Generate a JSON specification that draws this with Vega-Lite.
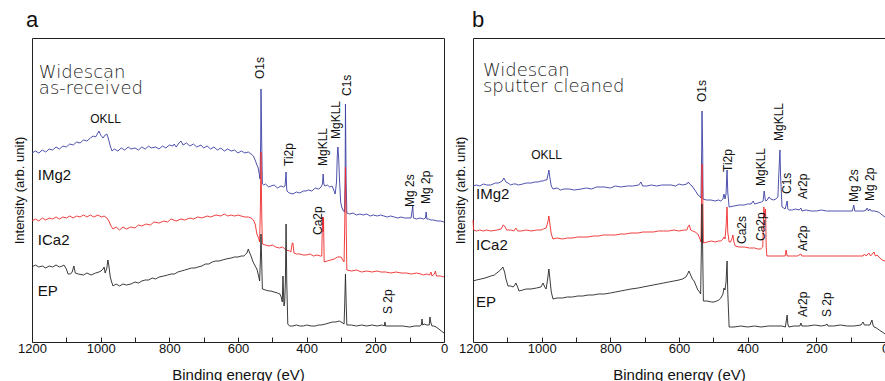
{
"$schema":"https://vega.github.io/schema/vega-lite/v6.json",
"padding":{"left":12,"top":8,"right":0,"bottom":0},
"bounds":"flush",
"spacing":29,
"datasets":{
"spectra":[
{"p":"a","s":"IMg2","e":1200,"i":189},{"p":"a","s":"IMg2","e":1190,"i":191},{"p":"a","s":"IMg2","e":1180,"i":189},{"p":"a","s":"IMg2","e":1170,"i":192},{"p":"a","s":"IMg2","e":1160,"i":190},{"p":"a","s":"IMg2","e":1150,"i":193},{"p":"a","s":"IMg2","e":1140,"i":192},{"p":"a","s":"IMg2","e":1130,"i":195},{"p":"a","s":"IMg2","e":1120,"i":193},{"p":"a","s":"IMg2","e":1110,"i":196},{"p":"a","s":"IMg2","e":1100,"i":195},{"p":"a","s":"IMg2","e":1090,"i":198},{"p":"a","s":"IMg2","e":1080,"i":197},{"p":"a","s":"IMg2","e":1070,"i":200},{"p":"a","s":"IMg2","e":1060,"i":199},{"p":"a","s":"IMg2","e":1050,"i":202},{"p":"a","s":"IMg2","e":1040,"i":201},{"p":"a","s":"IMg2","e":1030,"i":204},{"p":"a","s":"IMg2","e":1022,"i":206},{"p":"a","s":"IMg2","e":1015,"i":205},{"p":"a","s":"IMg2","e":1008,"i":209},{"p":"a","s":"IMg2","e":1005,"i":211},{"p":"a","s":"IMg2","e":1000,"i":207},{"p":"a","s":"IMg2","e":993,"i":204},{"p":"a","s":"IMg2","e":987,"i":207},{"p":"a","s":"IMg2","e":982,"i":208},{"p":"a","s":"IMg2","e":978,"i":204},{"p":"a","s":"IMg2","e":972,"i":196},{"p":"a","s":"IMg2","e":967,"i":191},{"p":"a","s":"IMg2","e":960,"i":193},{"p":"a","s":"IMg2","e":950,"i":191},{"p":"a","s":"IMg2","e":940,"i":194},{"p":"a","s":"IMg2","e":930,"i":192},{"p":"a","s":"IMg2","e":920,"i":195},{"p":"a","s":"IMg2","e":912,"i":193},{"p":"a","s":"IMg2","e":900,"i":194},{"p":"a","s":"IMg2","e":890,"i":192},{"p":"a","s":"IMg2","e":880,"i":195},{"p":"a","s":"IMg2","e":870,"i":193},{"p":"a","s":"IMg2","e":860,"i":196},{"p":"a","s":"IMg2","e":853,"i":194},{"p":"a","s":"IMg2","e":840,"i":195},{"p":"a","s":"IMg2","e":830,"i":193},{"p":"a","s":"IMg2","e":820,"i":196},{"p":"a","s":"IMg2","e":810,"i":194},{"p":"a","s":"IMg2","e":800,"i":197},{"p":"a","s":"IMg2","e":790,"i":196},{"p":"a","s":"IMg2","e":786,"i":198},{"p":"a","s":"IMg2","e":780,"i":195},{"p":"a","s":"IMg2","e":772,"i":199},{"p":"a","s":"IMg2","e":766,"i":201},{"p":"a","s":"IMg2","e":760,"i":197},{"p":"a","s":"IMg2","e":750,"i":199},{"p":"a","s":"IMg2","e":740,"i":196},{"p":"a","s":"IMg2","e":730,"i":198},{"p":"a","s":"IMg2","e":720,"i":195},{"p":"a","s":"IMg2","e":708,"i":197},{"p":"a","s":"IMg2","e":700,"i":194},{"p":"a","s":"IMg2","e":690,"i":196},{"p":"a","s":"IMg2","e":680,"i":193},{"p":"a","s":"IMg2","e":670,"i":195},{"p":"a","s":"IMg2","e":660,"i":192},{"p":"a","s":"IMg2","e":650,"i":194},{"p":"a","s":"IMg2","e":640,"i":191},{"p":"a","s":"IMg2","e":630,"i":193},{"p":"a","s":"IMg2","e":620,"i":191},{"p":"a","s":"IMg2","e":610,"i":192},{"p":"a","s":"IMg2","e":600,"i":189},{"p":"a","s":"IMg2","e":590,"i":191},{"p":"a","s":"IMg2","e":580,"i":189},{"p":"a","s":"IMg2","e":570,"i":190},{"p":"a","s":"IMg2","e":562,"i":188},{"p":"a","s":"IMg2","e":555,"i":186},{"p":"a","s":"IMg2","e":549,"i":181},{"p":"a","s":"IMg2","e":545,"i":177},{"p":"a","s":"IMg2","e":542,"i":175},{"p":"a","s":"IMg2","e":538,"i":168},{"p":"a","s":"IMg2","e":536,"i":163},{"p":"a","s":"IMg2","e":534,"i":200},{"p":"a","s":"IMg2","e":533,"i":253},{"p":"a","s":"IMg2","e":531,"i":200},{"p":"a","s":"IMg2","e":529,"i":158},{"p":"a","s":"IMg2","e":525,"i":157},{"p":"a","s":"IMg2","e":520,"i":158},{"p":"a","s":"IMg2","e":510,"i":155},{"p":"a","s":"IMg2","e":504,"i":156},{"p":"a","s":"IMg2","e":495,"i":157},{"p":"a","s":"IMg2","e":485,"i":154},{"p":"a","s":"IMg2","e":475,"i":156},{"p":"a","s":"IMg2","e":467,"i":155},{"p":"a","s":"IMg2","e":463,"i":156},{"p":"a","s":"IMg2","e":460,"i":170},{"p":"a","s":"IMg2","e":458,"i":152},{"p":"a","s":"IMg2","e":455,"i":150},{"p":"a","s":"IMg2","e":450,"i":149},{"p":"a","s":"IMg2","e":440,"i":148},{"p":"a","s":"IMg2","e":430,"i":150},{"p":"a","s":"IMg2","e":420,"i":149},{"p":"a","s":"IMg2","e":410,"i":151},{"p":"a","s":"IMg2","e":402,"i":151},{"p":"a","s":"IMg2","e":395,"i":152},{"p":"a","s":"IMg2","e":385,"i":151},{"p":"a","s":"IMg2","e":375,"i":154},{"p":"a","s":"IMg2","e":365,"i":153},{"p":"a","s":"IMg2","e":358,"i":155},{"p":"a","s":"IMg2","e":354,"i":158},{"p":"a","s":"IMg2","e":352,"i":168},{"p":"a","s":"IMg2","e":350,"i":158},{"p":"a","s":"IMg2","e":347,"i":156},{"p":"a","s":"IMg2","e":340,"i":157},{"p":"a","s":"IMg2","e":333,"i":155},{"p":"a","s":"IMg2","e":326,"i":156},{"p":"a","s":"IMg2","e":320,"i":151},{"p":"a","s":"IMg2","e":317,"i":148},{"p":"a","s":"IMg2","e":313,"i":160},{"p":"a","s":"IMg2","e":311,"i":185},{"p":"a","s":"IMg2","e":309,"i":195},{"p":"a","s":"IMg2","e":307,"i":185},{"p":"a","s":"IMg2","e":304,"i":160},{"p":"a","s":"IMg2","e":301,"i":140},{"p":"a","s":"IMg2","e":298,"i":135},{"p":"a","s":"IMg2","e":293,"i":131},{"p":"a","s":"IMg2","e":290,"i":130},{"p":"a","s":"IMg2","e":288,"i":160},{"p":"a","s":"IMg2","e":287,"i":238},{"p":"a","s":"IMg2","e":285,"i":160},{"p":"a","s":"IMg2","e":283,"i":129},{"p":"a","s":"IMg2","e":275,"i":128},{"p":"a","s":"IMg2","e":265,"i":129},{"p":"a","s":"IMg2","e":255,"i":127},{"p":"a","s":"IMg2","e":245,"i":128},{"p":"a","s":"IMg2","e":235,"i":127},{"p":"a","s":"IMg2","e":225,"i":128},{"p":"a","s":"IMg2","e":215,"i":126},{"p":"a","s":"IMg2","e":205,"i":127},{"p":"a","s":"IMg2","e":195,"i":126},{"p":"a","s":"IMg2","e":184,"i":127},{"p":"a","s":"IMg2","e":175,"i":126},{"p":"a","s":"IMg2","e":165,"i":125},{"p":"a","s":"IMg2","e":155,"i":126},{"p":"a","s":"IMg2","e":145,"i":125},{"p":"a","s":"IMg2","e":135,"i":124},{"p":"a","s":"IMg2","e":125,"i":125},{"p":"a","s":"IMg2","e":115,"i":124},{"p":"a","s":"IMg2","e":105,"i":124},{"p":"a","s":"IMg2","e":96,"i":124},{"p":"a","s":"IMg2","e":91,"i":136},{"p":"a","s":"IMg2","e":89,"i":124},{"p":"a","s":"IMg2","e":80,"i":123},{"p":"a","s":"IMg2","e":70,"i":124},{"p":"a","s":"IMg2","e":60,"i":123},{"p":"a","s":"IMg2","e":54,"i":124},{"p":"a","s":"IMg2","e":52,"i":130},{"p":"a","s":"IMg2","e":50,"i":123},{"p":"a","s":"IMg2","e":45,"i":123},{"p":"a","s":"IMg2","e":38,"i":122},{"p":"a","s":"IMg2","e":30,"i":122},{"p":"a","s":"IMg2","e":20,"i":121},{"p":"a","s":"IMg2","e":10,"i":121},{"p":"a","s":"IMg2","e":0,"i":120},
{"p":"a","s":"ICa2","e":1200,"i":121},{"p":"a","s":"ICa2","e":1190,"i":123},{"p":"a","s":"ICa2","e":1180,"i":121},{"p":"a","s":"ICa2","e":1170,"i":124},{"p":"a","s":"ICa2","e":1160,"i":122},{"p":"a","s":"ICa2","e":1150,"i":124},{"p":"a","s":"ICa2","e":1140,"i":123},{"p":"a","s":"ICa2","e":1130,"i":125},{"p":"a","s":"ICa2","e":1120,"i":123},{"p":"a","s":"ICa2","e":1110,"i":125},{"p":"a","s":"ICa2","e":1100,"i":124},{"p":"a","s":"ICa2","e":1090,"i":126},{"p":"a","s":"ICa2","e":1080,"i":124},{"p":"a","s":"ICa2","e":1070,"i":126},{"p":"a","s":"ICa2","e":1060,"i":125},{"p":"a","s":"ICa2","e":1050,"i":127},{"p":"a","s":"ICa2","e":1040,"i":125},{"p":"a","s":"ICa2","e":1030,"i":127},{"p":"a","s":"ICa2","e":1020,"i":125},{"p":"a","s":"ICa2","e":1008,"i":127},{"p":"a","s":"ICa2","e":998,"i":125},{"p":"a","s":"ICa2","e":990,"i":126},{"p":"a","s":"ICa2","e":982,"i":124},{"p":"a","s":"ICa2","e":976,"i":121},{"p":"a","s":"ICa2","e":970,"i":116},{"p":"a","s":"ICa2","e":964,"i":113},{"p":"a","s":"ICa2","e":955,"i":115},{"p":"a","s":"ICa2","e":945,"i":112},{"p":"a","s":"ICa2","e":935,"i":115},{"p":"a","s":"ICa2","e":925,"i":113},{"p":"a","s":"ICa2","e":912,"i":115},{"p":"a","s":"ICa2","e":900,"i":114},{"p":"a","s":"ICa2","e":890,"i":117},{"p":"a","s":"ICa2","e":880,"i":116},{"p":"a","s":"ICa2","e":868,"i":118},{"p":"a","s":"ICa2","e":855,"i":117},{"p":"a","s":"ICa2","e":845,"i":120},{"p":"a","s":"ICa2","e":830,"i":119},{"p":"a","s":"ICa2","e":816,"i":121},{"p":"a","s":"ICa2","e":805,"i":120},{"p":"a","s":"ICa2","e":795,"i":123},{"p":"a","s":"ICa2","e":780,"i":121},{"p":"a","s":"ICa2","e":766,"i":123},{"p":"a","s":"ICa2","e":755,"i":122},{"p":"a","s":"ICa2","e":740,"i":124},{"p":"a","s":"ICa2","e":730,"i":123},{"p":"a","s":"ICa2","e":717,"i":125},{"p":"a","s":"ICa2","e":705,"i":124},{"p":"a","s":"ICa2","e":690,"i":126},{"p":"a","s":"ICa2","e":680,"i":125},{"p":"a","s":"ICa2","e":664,"i":127},{"p":"a","s":"ICa2","e":650,"i":126},{"p":"a","s":"ICa2","e":640,"i":128},{"p":"a","s":"ICa2","e":630,"i":126},{"p":"a","s":"ICa2","e":620,"i":127},{"p":"a","s":"ICa2","e":610,"i":126},{"p":"a","s":"ICa2","e":600,"i":127},{"p":"a","s":"ICa2","e":591,"i":126},{"p":"a","s":"ICa2","e":580,"i":125},{"p":"a","s":"ICa2","e":570,"i":125},{"p":"a","s":"ICa2","e":562,"i":124},{"p":"a","s":"ICa2","e":555,"i":122},{"p":"a","s":"ICa2","e":550,"i":118},{"p":"a","s":"ICa2","e":545,"i":108},{"p":"a","s":"ICa2","e":540,"i":104},{"p":"a","s":"ICa2","e":537,"i":100},{"p":"a","s":"ICa2","e":535,"i":130},{"p":"a","s":"ICa2","e":533,"i":190},{"p":"a","s":"ICa2","e":531,"i":130},{"p":"a","s":"ICa2","e":529,"i":98},{"p":"a","s":"ICa2","e":520,"i":97},{"p":"a","s":"ICa2","e":510,"i":96},{"p":"a","s":"ICa2","e":500,"i":97},{"p":"a","s":"ICa2","e":490,"i":95},{"p":"a","s":"ICa2","e":480,"i":94},{"p":"a","s":"ICa2","e":470,"i":95},{"p":"a","s":"ICa2","e":460,"i":92},{"p":"a","s":"ICa2","e":450,"i":91},{"p":"a","s":"ICa2","e":446,"i":90},{"p":"a","s":"ICa2","e":442,"i":99},{"p":"a","s":"ICa2","e":440,"i":99},{"p":"a","s":"ICa2","e":437,"i":89},{"p":"a","s":"ICa2","e":430,"i":88},{"p":"a","s":"ICa2","e":420,"i":88},{"p":"a","s":"ICa2","e":410,"i":87},{"p":"a","s":"ICa2","e":402,"i":87},{"p":"a","s":"ICa2","e":390,"i":88},{"p":"a","s":"ICa2","e":380,"i":86},{"p":"a","s":"ICa2","e":370,"i":87},{"p":"a","s":"ICa2","e":360,"i":86},{"p":"a","s":"ICa2","e":356,"i":86},{"p":"a","s":"ICa2","e":354,"i":125},{"p":"a","s":"ICa2","e":352,"i":110},{"p":"a","s":"ICa2","e":351,"i":125},{"p":"a","s":"ICa2","e":349,"i":80},{"p":"a","s":"ICa2","e":340,"i":81},{"p":"a","s":"ICa2","e":330,"i":82},{"p":"a","s":"ICa2","e":320,"i":83},{"p":"a","s":"ICa2","e":310,"i":85},{"p":"a","s":"ICa2","e":300,"i":85},{"p":"a","s":"ICa2","e":295,"i":82},{"p":"a","s":"ICa2","e":291,"i":80},{"p":"a","s":"ICa2","e":289,"i":120},{"p":"a","s":"ICa2","e":287,"i":175},{"p":"a","s":"ICa2","e":285,"i":120},{"p":"a","s":"ICa2","e":283,"i":72},{"p":"a","s":"ICa2","e":270,"i":71},{"p":"a","s":"ICa2","e":255,"i":72},{"p":"a","s":"ICa2","e":240,"i":70},{"p":"a","s":"ICa2","e":225,"i":71},{"p":"a","s":"ICa2","e":210,"i":70},{"p":"a","s":"ICa2","e":195,"i":71},{"p":"a","s":"ICa2","e":184,"i":70},{"p":"a","s":"ICa2","e":170,"i":70},{"p":"a","s":"ICa2","e":155,"i":69},{"p":"a","s":"ICa2","e":140,"i":70},{"p":"a","s":"ICa2","e":125,"i":69},{"p":"a","s":"ICa2","e":110,"i":69},{"p":"a","s":"ICa2","e":95,"i":68},{"p":"a","s":"ICa2","e":80,"i":69},{"p":"a","s":"ICa2","e":67,"i":68},{"p":"a","s":"ICa2","e":60,"i":67},{"p":"a","s":"ICa2","e":50,"i":68},{"p":"a","s":"ICa2","e":42,"i":67},{"p":"a","s":"ICa2","e":38,"i":70},{"p":"a","s":"ICa2","e":35,"i":66},{"p":"a","s":"ICa2","e":28,"i":68},{"p":"a","s":"ICa2","e":25,"i":71},{"p":"a","s":"ICa2","e":22,"i":66},{"p":"a","s":"ICa2","e":10,"i":66},{"p":"a","s":"ICa2","e":0,"i":65},
{"p":"a","s":"EP","e":1200,"i":75},{"p":"a","s":"EP","e":1190,"i":77},{"p":"a","s":"EP","e":1180,"i":75},{"p":"a","s":"EP","e":1170,"i":76},{"p":"a","s":"EP","e":1160,"i":74},{"p":"a","s":"EP","e":1150,"i":76},{"p":"a","s":"EP","e":1140,"i":75},{"p":"a","s":"EP","e":1130,"i":77},{"p":"a","s":"EP","e":1120,"i":75},{"p":"a","s":"EP","e":1112,"i":76},{"p":"a","s":"EP","e":1107,"i":77},{"p":"a","s":"EP","e":1100,"i":73},{"p":"a","s":"EP","e":1095,"i":68},{"p":"a","s":"EP","e":1088,"i":68},{"p":"a","s":"EP","e":1083,"i":70},{"p":"a","s":"EP","e":1078,"i":76},{"p":"a","s":"EP","e":1074,"i":69},{"p":"a","s":"EP","e":1065,"i":68},{"p":"a","s":"EP","e":1050,"i":67},{"p":"a","s":"EP","e":1040,"i":69},{"p":"a","s":"EP","e":1028,"i":67},{"p":"a","s":"EP","e":1015,"i":69},{"p":"a","s":"EP","e":1005,"i":70},{"p":"a","s":"EP","e":999,"i":71},{"p":"a","s":"EP","e":993,"i":73},{"p":"a","s":"EP","e":990,"i":75},{"p":"a","s":"EP","e":987,"i":69},{"p":"a","s":"EP","e":982,"i":74},{"p":"a","s":"EP","e":979,"i":82},{"p":"a","s":"EP","e":976,"i":76},{"p":"a","s":"EP","e":972,"i":65},{"p":"a","s":"EP","e":968,"i":60},{"p":"a","s":"EP","e":964,"i":56},{"p":"a","s":"EP","e":955,"i":58},{"p":"a","s":"EP","e":945,"i":56},{"p":"a","s":"EP","e":935,"i":58},{"p":"a","s":"EP","e":925,"i":57},{"p":"a","s":"EP","e":912,"i":58},{"p":"a","s":"EP","e":900,"i":60},{"p":"a","s":"EP","e":890,"i":59},{"p":"a","s":"EP","e":880,"i":61},{"p":"a","s":"EP","e":870,"i":62},{"p":"a","s":"EP","e":860,"i":62},{"p":"a","s":"EP","e":850,"i":64},{"p":"a","s":"EP","e":840,"i":63},{"p":"a","s":"EP","e":830,"i":65},{"p":"a","s":"EP","e":816,"i":66},{"p":"a","s":"EP","e":805,"i":67},{"p":"a","s":"EP","e":795,"i":68},{"p":"a","s":"EP","e":785,"i":68},{"p":"a","s":"EP","e":775,"i":70},{"p":"a","s":"EP","e":765,"i":71},{"p":"a","s":"EP","e":755,"i":72},{"p":"a","s":"EP","e":745,"i":73},{"p":"a","s":"EP","e":735,"i":74},{"p":"a","s":"EP","e":725,"i":74},{"p":"a","s":"EP","e":717,"i":75},{"p":"a","s":"EP","e":705,"i":76},{"p":"a","s":"EP","e":695,"i":78},{"p":"a","s":"EP","e":685,"i":78},{"p":"a","s":"EP","e":675,"i":80},{"p":"a","s":"EP","e":665,"i":81},{"p":"a","s":"EP","e":655,"i":81},{"p":"a","s":"EP","e":645,"i":82},{"p":"a","s":"EP","e":635,"i":83},{"p":"a","s":"EP","e":620,"i":84},{"p":"a","s":"EP","e":610,"i":85},{"p":"a","s":"EP","e":600,"i":85},{"p":"a","s":"EP","e":590,"i":86},{"p":"a","s":"EP","e":583,"i":86},{"p":"a","s":"EP","e":577,"i":88},{"p":"a","s":"EP","e":574,"i":89},{"p":"a","s":"EP","e":570,"i":93},{"p":"a","s":"EP","e":567,"i":90},{"p":"a","s":"EP","e":562,"i":86},{"p":"a","s":"EP","e":556,"i":80},{"p":"a","s":"EP","e":550,"i":76},{"p":"a","s":"EP","e":545,"i":73},{"p":"a","s":"EP","e":540,"i":66},{"p":"a","s":"EP","e":537,"i":61},{"p":"a","s":"EP","e":535,"i":80},{"p":"a","s":"EP","e":533,"i":108},{"p":"a","s":"EP","e":531,"i":80},{"p":"a","s":"EP","e":529,"i":53},{"p":"a","s":"EP","e":520,"i":52},{"p":"a","s":"EP","e":510,"i":51},{"p":"a","s":"EP","e":504,"i":51},{"p":"a","s":"EP","e":495,"i":50},{"p":"a","s":"EP","e":485,"i":49},{"p":"a","s":"EP","e":478,"i":48},{"p":"a","s":"EP","e":474,"i":45},{"p":"a","s":"EP","e":471,"i":40},{"p":"a","s":"EP","e":469,"i":66},{"p":"a","s":"EP","e":467,"i":45},{"p":"a","s":"EP","e":466,"i":36},{"p":"a","s":"EP","e":464,"i":40},{"p":"a","s":"EP","e":462,"i":60},{"p":"a","s":"EP","e":460,"i":118},{"p":"a","s":"EP","e":458,"i":60},{"p":"a","s":"EP","e":455,"i":18},{"p":"a","s":"EP","e":450,"i":16},{"p":"a","s":"EP","e":440,"i":16},{"p":"a","s":"EP","e":430,"i":17},{"p":"a","s":"EP","e":420,"i":16},{"p":"a","s":"EP","e":410,"i":16},{"p":"a","s":"EP","e":400,"i":17},{"p":"a","s":"EP","e":387,"i":16},{"p":"a","s":"EP","e":375,"i":16},{"p":"a","s":"EP","e":365,"i":17},{"p":"a","s":"EP","e":358,"i":17},{"p":"a","s":"EP","e":345,"i":18},{"p":"a","s":"EP","e":335,"i":19},{"p":"a","s":"EP","e":325,"i":20},{"p":"a","s":"EP","e":315,"i":20},{"p":"a","s":"EP","e":305,"i":21},{"p":"a","s":"EP","e":300,"i":20},{"p":"a","s":"EP","e":295,"i":19},{"p":"a","s":"EP","e":291,"i":18},{"p":"a","s":"EP","e":289,"i":40},{"p":"a","s":"EP","e":287,"i":68},{"p":"a","s":"EP","e":285,"i":40},{"p":"a","s":"EP","e":283,"i":17},{"p":"a","s":"EP","e":270,"i":17},{"p":"a","s":"EP","e":255,"i":16},{"p":"a","s":"EP","e":240,"i":17},{"p":"a","s":"EP","e":225,"i":16},{"p":"a","s":"EP","e":210,"i":17},{"p":"a","s":"EP","e":195,"i":16},{"p":"a","s":"EP","e":180,"i":17},{"p":"a","s":"EP","e":174,"i":16},{"p":"a","s":"EP","e":172,"i":20},{"p":"a","s":"EP","e":170,"i":16},{"p":"a","s":"EP","e":160,"i":16},{"p":"a","s":"EP","e":140,"i":16},{"p":"a","s":"EP","e":120,"i":16},{"p":"a","s":"EP","e":100,"i":15},{"p":"a","s":"EP","e":85,"i":16},{"p":"a","s":"EP","e":70,"i":16},{"p":"a","s":"EP","e":66,"i":17},{"p":"a","s":"EP","e":64,"i":23},{"p":"a","s":"EP","e":62,"i":17},{"p":"a","s":"EP","e":58,"i":18},{"p":"a","s":"EP","e":50,"i":17},{"p":"a","s":"EP","e":43,"i":17},{"p":"a","s":"EP","e":41,"i":25},{"p":"a","s":"EP","e":38,"i":19},{"p":"a","s":"EP","e":35,"i":16},{"p":"a","s":"EP","e":30,"i":16},{"p":"a","s":"EP","e":23,"i":15},{"p":"a","s":"EP","e":15,"i":13},{"p":"a","s":"EP","e":8,"i":11},{"p":"a","s":"EP","e":0,"i":9},
{"p":"b","s":"IMg2","e":1200,"i":156},{"p":"b","s":"IMg2","e":1190,"i":157},{"p":"b","s":"IMg2","e":1180,"i":156},{"p":"b","s":"IMg2","e":1170,"i":158},{"p":"b","s":"IMg2","e":1160,"i":157},{"p":"b","s":"IMg2","e":1148,"i":157},{"p":"b","s":"IMg2","e":1135,"i":159},{"p":"b","s":"IMg2","e":1125,"i":159},{"p":"b","s":"IMg2","e":1115,"i":161},{"p":"b","s":"IMg2","e":1110,"i":164},{"p":"b","s":"IMg2","e":1104,"i":160},{"p":"b","s":"IMg2","e":1098,"i":159},{"p":"b","s":"IMg2","e":1090,"i":157},{"p":"b","s":"IMg2","e":1082,"i":158},{"p":"b","s":"IMg2","e":1075,"i":158},{"p":"b","s":"IMg2","e":1068,"i":157},{"p":"b","s":"IMg2","e":1055,"i":158},{"p":"b","s":"IMg2","e":1045,"i":159},{"p":"b","s":"IMg2","e":1031,"i":159},{"p":"b","s":"IMg2","e":1020,"i":160},{"p":"b","s":"IMg2","e":1010,"i":160},{"p":"b","s":"IMg2","e":1002,"i":161},{"p":"b","s":"IMg2","e":996,"i":161},{"p":"b","s":"IMg2","e":990,"i":162},{"p":"b","s":"IMg2","e":985,"i":162},{"p":"b","s":"IMg2","e":981,"i":168},{"p":"b","s":"IMg2","e":979,"i":172},{"p":"b","s":"IMg2","e":976,"i":164},{"p":"b","s":"IMg2","e":972,"i":156},{"p":"b","s":"IMg2","e":967,"i":153},{"p":"b","s":"IMg2","e":955,"i":154},{"p":"b","s":"IMg2","e":945,"i":152},{"p":"b","s":"IMg2","e":935,"i":153},{"p":"b","s":"IMg2","e":920,"i":153},{"p":"b","s":"IMg2","e":905,"i":152},{"p":"b","s":"IMg2","e":885,"i":153},{"p":"b","s":"IMg2","e":870,"i":154},{"p":"b","s":"IMg2","e":855,"i":153},{"p":"b","s":"IMg2","e":840,"i":155},{"p":"b","s":"IMg2","e":818,"i":155},{"p":"b","s":"IMg2","e":800,"i":154},{"p":"b","s":"IMg2","e":785,"i":156},{"p":"b","s":"IMg2","e":770,"i":155},{"p":"b","s":"IMg2","e":750,"i":156},{"p":"b","s":"IMg2","e":735,"i":156},{"p":"b","s":"IMg2","e":717,"i":157},{"p":"b","s":"IMg2","e":711,"i":160},{"p":"b","s":"IMg2","e":706,"i":156},{"p":"b","s":"IMg2","e":695,"i":156},{"p":"b","s":"IMg2","e":680,"i":157},{"p":"b","s":"IMg2","e":665,"i":156},{"p":"b","s":"IMg2","e":650,"i":157},{"p":"b","s":"IMg2","e":635,"i":157},{"p":"b","s":"IMg2","e":623,"i":157},{"p":"b","s":"IMg2","e":610,"i":156},{"p":"b","s":"IMg2","e":600,"i":158},{"p":"b","s":"IMg2","e":590,"i":157},{"p":"b","s":"IMg2","e":577,"i":158},{"p":"b","s":"IMg2","e":573,"i":160},{"p":"b","s":"IMg2","e":569,"i":158},{"p":"b","s":"IMg2","e":562,"i":156},{"p":"b","s":"IMg2","e":556,"i":153},{"p":"b","s":"IMg2","e":550,"i":150},{"p":"b","s":"IMg2","e":545,"i":147},{"p":"b","s":"IMg2","e":540,"i":146},{"p":"b","s":"IMg2","e":536,"i":144},{"p":"b","s":"IMg2","e":534,"i":190},{"p":"b","s":"IMg2","e":533,"i":231},{"p":"b","s":"IMg2","e":531,"i":190},{"p":"b","s":"IMg2","e":530,"i":143},{"p":"b","s":"IMg2","e":520,"i":142},{"p":"b","s":"IMg2","e":507,"i":142},{"p":"b","s":"IMg2","e":495,"i":141},{"p":"b","s":"IMg2","e":485,"i":142},{"p":"b","s":"IMg2","e":478,"i":141},{"p":"b","s":"IMg2","e":472,"i":143},{"p":"b","s":"IMg2","e":469,"i":148},{"p":"b","s":"IMg2","e":466,"i":143},{"p":"b","s":"IMg2","e":463,"i":148},{"p":"b","s":"IMg2","e":460,"i":172},{"p":"b","s":"IMg2","e":458,"i":150},{"p":"b","s":"IMg2","e":454,"i":135},{"p":"b","s":"IMg2","e":440,"i":136},{"p":"b","s":"IMg2","e":425,"i":137},{"p":"b","s":"IMg2","e":410,"i":137},{"p":"b","s":"IMg2","e":400,"i":138},{"p":"b","s":"IMg2","e":390,"i":138},{"p":"b","s":"IMg2","e":384,"i":141},{"p":"b","s":"IMg2","e":380,"i":138},{"p":"b","s":"IMg2","e":370,"i":139},{"p":"b","s":"IMg2","e":360,"i":140},{"p":"b","s":"IMg2","e":355,"i":141},{"p":"b","s":"IMg2","e":352,"i":151},{"p":"b","s":"IMg2","e":349,"i":143},{"p":"b","s":"IMg2","e":347,"i":141},{"p":"b","s":"IMg2","e":343,"i":142},{"p":"b","s":"IMg2","e":338,"i":145},{"p":"b","s":"IMg2","e":333,"i":143},{"p":"b","s":"IMg2","e":325,"i":142},{"p":"b","s":"IMg2","e":318,"i":143},{"p":"b","s":"IMg2","e":312,"i":145},{"p":"b","s":"IMg2","e":309,"i":170},{"p":"b","s":"IMg2","e":306,"i":192},{"p":"b","s":"IMg2","e":304,"i":165},{"p":"b","s":"IMg2","e":300,"i":135},{"p":"b","s":"IMg2","e":295,"i":134},{"p":"b","s":"IMg2","e":291,"i":133},{"p":"b","s":"IMg2","e":287,"i":138},{"p":"b","s":"IMg2","e":285,"i":141},{"p":"b","s":"IMg2","e":283,"i":133},{"p":"b","s":"IMg2","e":280,"i":132},{"p":"b","s":"IMg2","e":270,"i":132},{"p":"b","s":"IMg2","e":260,"i":133},{"p":"b","s":"IMg2","e":250,"i":132},{"p":"b","s":"IMg2","e":245,"i":134},{"p":"b","s":"IMg2","e":242,"i":131},{"p":"b","s":"IMg2","e":230,"i":132},{"p":"b","s":"IMg2","e":215,"i":131},{"p":"b","s":"IMg2","e":200,"i":131},{"p":"b","s":"IMg2","e":185,"i":132},{"p":"b","s":"IMg2","e":170,"i":131},{"p":"b","s":"IMg2","e":155,"i":131},{"p":"b","s":"IMg2","e":140,"i":131},{"p":"b","s":"IMg2","e":125,"i":131},{"p":"b","s":"IMg2","e":110,"i":131},{"p":"b","s":"IMg2","e":95,"i":131},{"p":"b","s":"IMg2","e":91,"i":137},{"p":"b","s":"IMg2","e":88,"i":131},{"p":"b","s":"IMg2","e":75,"i":131},{"p":"b","s":"IMg2","e":62,"i":131},{"p":"b","s":"IMg2","e":55,"i":132},{"p":"b","s":"IMg2","e":52,"i":134},{"p":"b","s":"IMg2","e":48,"i":131},{"p":"b","s":"IMg2","e":44,"i":133},{"p":"b","s":"IMg2","e":40,"i":131},{"p":"b","s":"IMg2","e":30,"i":131},{"p":"b","s":"IMg2","e":20,"i":130},{"p":"b","s":"IMg2","e":15,"i":129},{"p":"b","s":"IMg2","e":8,"i":127},{"p":"b","s":"IMg2","e":0,"i":125},
{"p":"b","s":"ICa2","e":1200,"i":122},{"p":"b","s":"ICa2","e":1198,"i":112},{"p":"b","s":"ICa2","e":1190,"i":111},{"p":"b","s":"ICa2","e":1180,"i":112},{"p":"b","s":"ICa2","e":1170,"i":111},{"p":"b","s":"ICa2","e":1160,"i":112},{"p":"b","s":"ICa2","e":1148,"i":111},{"p":"b","s":"ICa2","e":1130,"i":112},{"p":"b","s":"ICa2","e":1118,"i":113},{"p":"b","s":"ICa2","e":1112,"i":117},{"p":"b","s":"ICa2","e":1108,"i":116},{"p":"b","s":"ICa2","e":1102,"i":112},{"p":"b","s":"ICa2","e":1090,"i":112},{"p":"b","s":"ICa2","e":1081,"i":111},{"p":"b","s":"ICa2","e":1075,"i":114},{"p":"b","s":"ICa2","e":1070,"i":111},{"p":"b","s":"ICa2","e":1060,"i":111},{"p":"b","s":"ICa2","e":1045,"i":112},{"p":"b","s":"ICa2","e":1030,"i":111},{"p":"b","s":"ICa2","e":1015,"i":112},{"p":"b","s":"ICa2","e":1002,"i":112},{"p":"b","s":"ICa2","e":995,"i":113},{"p":"b","s":"ICa2","e":987,"i":114},{"p":"b","s":"ICa2","e":982,"i":120},{"p":"b","s":"ICa2","e":979,"i":126},{"p":"b","s":"ICa2","e":976,"i":118},{"p":"b","s":"ICa2","e":972,"i":108},{"p":"b","s":"ICa2","e":967,"i":103},{"p":"b","s":"ICa2","e":955,"i":104},{"p":"b","s":"ICa2","e":940,"i":103},{"p":"b","s":"ICa2","e":925,"i":104},{"p":"b","s":"ICa2","e":910,"i":104},{"p":"b","s":"ICa2","e":895,"i":105},{"p":"b","s":"ICa2","e":880,"i":105},{"p":"b","s":"ICa2","e":865,"i":105},{"p":"b","s":"ICa2","e":850,"i":106},{"p":"b","s":"ICa2","e":835,"i":106},{"p":"b","s":"ICa2","e":820,"i":107},{"p":"b","s":"ICa2","e":800,"i":107},{"p":"b","s":"ICa2","e":785,"i":107},{"p":"b","s":"ICa2","e":770,"i":108},{"p":"b","s":"ICa2","e":755,"i":108},{"p":"b","s":"ICa2","e":740,"i":109},{"p":"b","s":"ICa2","e":719,"i":109},{"p":"b","s":"ICa2","e":705,"i":110},{"p":"b","s":"ICa2","e":690,"i":110},{"p":"b","s":"ICa2","e":675,"i":110},{"p":"b","s":"ICa2","e":660,"i":111},{"p":"b","s":"ICa2","e":645,"i":111},{"p":"b","s":"ICa2","e":630,"i":111},{"p":"b","s":"ICa2","e":615,"i":112},{"p":"b","s":"ICa2","e":600,"i":111},{"p":"b","s":"ICa2","e":585,"i":112},{"p":"b","s":"ICa2","e":577,"i":112},{"p":"b","s":"ICa2","e":573,"i":116},{"p":"b","s":"ICa2","e":570,"i":117},{"p":"b","s":"ICa2","e":566,"i":112},{"p":"b","s":"ICa2","e":560,"i":111},{"p":"b","s":"ICa2","e":553,"i":110},{"p":"b","s":"ICa2","e":545,"i":108},{"p":"b","s":"ICa2","e":540,"i":104},{"p":"b","s":"ICa2","e":536,"i":100},{"p":"b","s":"ICa2","e":534,"i":150},{"p":"b","s":"ICa2","e":533,"i":178},{"p":"b","s":"ICa2","e":531,"i":150},{"p":"b","s":"ICa2","e":529,"i":99},{"p":"b","s":"ICa2","e":518,"i":100},{"p":"b","s":"ICa2","e":505,"i":101},{"p":"b","s":"ICa2","e":495,"i":100},{"p":"b","s":"ICa2","e":485,"i":101},{"p":"b","s":"ICa2","e":478,"i":101},{"p":"b","s":"ICa2","e":472,"i":103},{"p":"b","s":"ICa2","e":469,"i":105},{"p":"b","s":"ICa2","e":466,"i":103},{"p":"b","s":"ICa2","e":463,"i":115},{"p":"b","s":"ICa2","e":460,"i":135},{"p":"b","s":"ICa2","e":458,"i":110},{"p":"b","s":"ICa2","e":454,"i":100},{"p":"b","s":"ICa2","e":450,"i":100},{"p":"b","s":"ICa2","e":446,"i":103},{"p":"b","s":"ICa2","e":443,"i":107},{"p":"b","s":"ICa2","e":440,"i":100},{"p":"b","s":"ICa2","e":436,"i":96},{"p":"b","s":"ICa2","e":425,"i":95},{"p":"b","s":"ICa2","e":410,"i":95},{"p":"b","s":"ICa2","e":395,"i":94},{"p":"b","s":"ICa2","e":380,"i":94},{"p":"b","s":"ICa2","e":370,"i":93},{"p":"b","s":"ICa2","e":362,"i":93},{"p":"b","s":"ICa2","e":356,"i":95},{"p":"b","s":"ICa2","e":353,"i":135},{"p":"b","s":"ICa2","e":350,"i":125},{"p":"b","s":"ICa2","e":348,"i":133},{"p":"b","s":"ICa2","e":346,"i":95},{"p":"b","s":"ICa2","e":344,"i":86},{"p":"b","s":"ICa2","e":330,"i":86},{"p":"b","s":"ICa2","e":315,"i":86},{"p":"b","s":"ICa2","e":300,"i":86},{"p":"b","s":"ICa2","e":291,"i":86},{"p":"b","s":"ICa2","e":288,"i":92},{"p":"b","s":"ICa2","e":285,"i":86},{"p":"b","s":"ICa2","e":270,"i":86},{"p":"b","s":"ICa2","e":255,"i":86},{"p":"b","s":"ICa2","e":245,"i":88},{"p":"b","s":"ICa2","e":242,"i":86},{"p":"b","s":"ICa2","e":225,"i":86},{"p":"b","s":"ICa2","e":205,"i":86},{"p":"b","s":"ICa2","e":185,"i":86},{"p":"b","s":"ICa2","e":165,"i":86},{"p":"b","s":"ICa2","e":145,"i":86},{"p":"b","s":"ICa2","e":125,"i":86},{"p":"b","s":"ICa2","e":105,"i":86},{"p":"b","s":"ICa2","e":85,"i":86},{"p":"b","s":"ICa2","e":70,"i":86},{"p":"b","s":"ICa2","e":64,"i":86},{"p":"b","s":"ICa2","e":60,"i":88},{"p":"b","s":"ICa2","e":55,"i":86},{"p":"b","s":"ICa2","e":47,"i":89},{"p":"b","s":"ICa2","e":42,"i":86},{"p":"b","s":"ICa2","e":32,"i":90},{"p":"b","s":"ICa2","e":28,"i":86},{"p":"b","s":"ICa2","e":23,"i":87},{"p":"b","s":"ICa2","e":15,"i":84},{"p":"b","s":"ICa2","e":8,"i":82},{"p":"b","s":"ICa2","e":0,"i":81},
{"p":"b","s":"EP","e":1200,"i":61},{"p":"b","s":"EP","e":1190,"i":62},{"p":"b","s":"EP","e":1177,"i":63},{"p":"b","s":"EP","e":1165,"i":64},{"p":"b","s":"EP","e":1148,"i":66},{"p":"b","s":"EP","e":1138,"i":67},{"p":"b","s":"EP","e":1127,"i":70},{"p":"b","s":"EP","e":1120,"i":72},{"p":"b","s":"EP","e":1113,"i":75},{"p":"b","s":"EP","e":1108,"i":70},{"p":"b","s":"EP","e":1104,"i":63},{"p":"b","s":"EP","e":1098,"i":56},{"p":"b","s":"EP","e":1090,"i":56},{"p":"b","s":"EP","e":1083,"i":55},{"p":"b","s":"EP","e":1078,"i":57},{"p":"b","s":"EP","e":1075,"i":59},{"p":"b","s":"EP","e":1070,"i":55},{"p":"b","s":"EP","e":1066,"i":51},{"p":"b","s":"EP","e":1055,"i":52},{"p":"b","s":"EP","e":1045,"i":53},{"p":"b","s":"EP","e":1031,"i":53},{"p":"b","s":"EP","e":1015,"i":54},{"p":"b","s":"EP","e":1002,"i":55},{"p":"b","s":"EP","e":996,"i":59},{"p":"b","s":"EP","e":991,"i":55},{"p":"b","s":"EP","e":987,"i":53},{"p":"b","s":"EP","e":983,"i":62},{"p":"b","s":"EP","e":979,"i":73},{"p":"b","s":"EP","e":976,"i":63},{"p":"b","s":"EP","e":972,"i":50},{"p":"b","s":"EP","e":967,"i":43},{"p":"b","s":"EP","e":955,"i":44},{"p":"b","s":"EP","e":940,"i":44},{"p":"b","s":"EP","e":925,"i":45},{"p":"b","s":"EP","e":910,"i":45},{"p":"b","s":"EP","e":895,"i":46},{"p":"b","s":"EP","e":880,"i":46},{"p":"b","s":"EP","e":865,"i":47},{"p":"b","s":"EP","e":850,"i":47},{"p":"b","s":"EP","e":835,"i":48},{"p":"b","s":"EP","e":818,"i":48},{"p":"b","s":"EP","e":800,"i":49},{"p":"b","s":"EP","e":785,"i":50},{"p":"b","s":"EP","e":770,"i":51},{"p":"b","s":"EP","e":755,"i":52},{"p":"b","s":"EP","e":740,"i":53},{"p":"b","s":"EP","e":719,"i":54},{"p":"b","s":"EP","e":705,"i":55},{"p":"b","s":"EP","e":690,"i":56},{"p":"b","s":"EP","e":675,"i":57},{"p":"b","s":"EP","e":660,"i":58},{"p":"b","s":"EP","e":645,"i":59},{"p":"b","s":"EP","e":630,"i":60},{"p":"b","s":"EP","e":615,"i":61},{"p":"b","s":"EP","e":600,"i":62},{"p":"b","s":"EP","e":590,"i":63},{"p":"b","s":"EP","e":580,"i":65},{"p":"b","s":"EP","e":575,"i":68},{"p":"b","s":"EP","e":571,"i":71},{"p":"b","s":"EP","e":566,"i":67},{"p":"b","s":"EP","e":561,"i":63},{"p":"b","s":"EP","e":556,"i":61},{"p":"b","s":"EP","e":550,"i":56},{"p":"b","s":"EP","e":545,"i":52},{"p":"b","s":"EP","e":540,"i":50},{"p":"b","s":"EP","e":537,"i":48},{"p":"b","s":"EP","e":535,"i":90},{"p":"b","s":"EP","e":533,"i":138},{"p":"b","s":"EP","e":531,"i":90},{"p":"b","s":"EP","e":529,"i":41},{"p":"b","s":"EP","e":518,"i":41},{"p":"b","s":"EP","e":505,"i":40},{"p":"b","s":"EP","e":498,"i":40},{"p":"b","s":"EP","e":490,"i":41},{"p":"b","s":"EP","e":484,"i":42},{"p":"b","s":"EP","e":478,"i":44},{"p":"b","s":"EP","e":472,"i":48},{"p":"b","s":"EP","e":469,"i":54},{"p":"b","s":"EP","e":466,"i":52},{"p":"b","s":"EP","e":463,"i":60},{"p":"b","s":"EP","e":460,"i":81},{"p":"b","s":"EP","e":458,"i":50},{"p":"b","s":"EP","e":454,"i":15},{"p":"b","s":"EP","e":440,"i":15},{"p":"b","s":"EP","e":420,"i":16},{"p":"b","s":"EP","e":400,"i":15},{"p":"b","s":"EP","e":380,"i":16},{"p":"b","s":"EP","e":361,"i":15},{"p":"b","s":"EP","e":340,"i":16},{"p":"b","s":"EP","e":323,"i":16},{"p":"b","s":"EP","e":300,"i":16},{"p":"b","s":"EP","e":290,"i":15},{"p":"b","s":"EP","e":288,"i":20},{"p":"b","s":"EP","e":285,"i":27},{"p":"b","s":"EP","e":283,"i":18},{"p":"b","s":"EP","e":280,"i":15},{"p":"b","s":"EP","e":265,"i":16},{"p":"b","s":"EP","e":248,"i":16},{"p":"b","s":"EP","e":245,"i":19},{"p":"b","s":"EP","e":242,"i":16},{"p":"b","s":"EP","e":225,"i":16},{"p":"b","s":"EP","e":205,"i":17},{"p":"b","s":"EP","e":185,"i":16},{"p":"b","s":"EP","e":172,"i":17},{"p":"b","s":"EP","e":169,"i":18},{"p":"b","s":"EP","e":166,"i":16},{"p":"b","s":"EP","e":150,"i":16},{"p":"b","s":"EP","e":130,"i":17},{"p":"b","s":"EP","e":110,"i":16},{"p":"b","s":"EP","e":90,"i":16},{"p":"b","s":"EP","e":70,"i":17},{"p":"b","s":"EP","e":64,"i":20},{"p":"b","s":"EP","e":60,"i":17},{"p":"b","s":"EP","e":50,"i":17},{"p":"b","s":"EP","e":44,"i":17},{"p":"b","s":"EP","e":38,"i":22},{"p":"b","s":"EP","e":35,"i":17},{"p":"b","s":"EP","e":32,"i":15},{"p":"b","s":"EP","e":25,"i":14},{"p":"b","s":"EP","e":17,"i":12},{"p":"b","s":"EP","e":8,"i":10},{"p":"b","s":"EP","e":0,"i":8}
],
"labels":[
{"p":"a","k":"peak","t":"O1s","e":536,"i":263},
{"p":"a","k":"peak","t":"C1s","e":283,"i":246},
{"p":"a","k":"peak","t":"MgKLL","e":315,"i":203},
{"p":"a","k":"peak","t":"MgKLL","e":352,"i":176},
{"p":"a","k":"peak","t":"Ti2p","e":451,"i":176},
{"p":"a","k":"peak","t":"Mg 2s","e":100,"i":135},
{"p":"a","k":"peak","t":"Mg 2p","e":51,"i":138},
{"p":"a","k":"peak","t":"Ca2p","e":367,"i":107},
{"p":"a","k":"peak","t":"S 2p","e":162,"i":28},
{"p":"a","k":"center","t":"OKLL","e":986,"i":219},
{"p":"a","k":"sample","t":"IMg2","e":1183,"i":162},
{"p":"a","k":"sample","t":"ICa2","e":1183,"i":97},
{"p":"a","k":"sample","t":"EP","e":1183,"i":46},
{"p":"a","k":"title","t":"Widescan\nas-received","e":1180,"i":264},
{"p":"b","k":"peak","t":"O1s","e":533,"i":240},
{"p":"b","k":"peak","t":"MgKLL","e":309,"i":201},
{"p":"b","k":"peak","t":"Ti2p","e":457,"i":170},
{"p":"b","k":"peak","t":"MgKLL","e":360,"i":156},
{"p":"b","k":"peak","t":"C1s","e":284,"i":148},
{"p":"b","k":"peak","t":"Ar2p","e":240,"i":143},
{"p":"b","k":"peak","t":"Mg 2s","e":90,"i":140},
{"p":"b","k":"peak","t":"Mg 2p","e":45,"i":141},
{"p":"b","k":"peak","t":"Ca2s","e":417,"i":98},
{"p":"b","k":"peak","t":"Ca2p","e":360,"i":101},
{"p":"b","k":"peak","t":"Ar2p","e":240,"i":91},
{"p":"b","k":"peak","t":"Ar2p","e":240,"i":25},
{"p":"b","k":"peak","t":"S 2p","e":169,"i":25},
{"p":"b","k":"center","t":"OKLL","e":986,"i":183},
{"p":"b","k":"sample","t":"IMg2","e":1191,"i":143},
{"p":"b","k":"sample","t":"ICa2","e":1191,"i":92},
{"p":"b","k":"sample","t":"EP","e":1191,"i":35},
{"p":"b","k":"title","t":"Widescan\nsputter cleaned","e":1171,"i":266}
]
},
"hconcat":[
{
"width":412,"height":304,
"title":{"text":"a","anchor":"start","frame":"group","fontSize":22,"fontWeight":"normal","baseline":"alphabetic","offset":-11,"dx":-6,"color":"#111"},
"encoding":{
"x":{"field":"e","type":"quantitative","scale":{"domain":[0,1200],"reverse":true,"nice":false,"zero":false},"axis":{"title":"Binding energy (eV)","values":[0,100,200,300,400,500,600,700,800,900,1000,1100,1200],"labelExpr":"datum.value % 200 === 0 ? datum.label : ''","format":"d","tickSize":-5,"labelPadding":5,"labelFontSize":13,"titleFontSize":15,"titlePadding":12}},
"y":{"field":"i","type":"quantitative","scale":{"domain":[0,304],"nice":false,"zero":false},"axis":{"title":"Intensity (arb. unit)","titleFontSize":13,"titlePadding":6}}
},
"layer":[
{"data":{"name":"spectra"},"transform":[{"filter":"datum.p === 'a'"}],"mark":{"type":"line","strokeWidth":0.9},"encoding":{"color":{"field":"s","type":"nominal","scale":{"domain":["IMg2","ICa2","EP"],"range":["#3b3fa3","#ee2a2a","#262626"]},"legend":null}}},
{"data":{"name":"labels"},"transform":[{"filter":"datum.p === 'a' && datum.k === 'peak'"}],"mark":{"type":"text","angle":270,"align":"left","baseline":"middle","fontSize":12,"color":"#111"},"encoding":{"text":{"field":"t"}}},
{"data":{"name":"labels"},"transform":[{"filter":"datum.p === 'a' && datum.k === 'sample'"}],"mark":{"type":"text","align":"left","baseline":"alphabetic","fontSize":15,"color":"#111"},"encoding":{"text":{"field":"t"}}},
{"data":{"name":"labels"},"transform":[{"filter":"datum.p === 'a' && datum.k === 'center'"}],"mark":{"type":"text","align":"center","baseline":"alphabetic","fontSize":12,"color":"#111"},"encoding":{"text":{"field":"t"}}},
{"data":{"name":"labels"},"transform":[{"filter":"datum.p === 'a' && datum.k === 'title'"}],"mark":{"type":"text","align":"left","baseline":"alphabetic","fontSize":18,"font":"DejaVu Sans","fontWeight":300,"lineHeight":16,"lineBreak":"\n","color":"#1e1e1e"},"encoding":{"text":{"field":"t"}}}
]
},
{
"width":412,"height":304,
"title":{"text":"b","anchor":"start","frame":"group","fontSize":22,"fontWeight":"normal","baseline":"alphabetic","offset":-11,"dx":-1,"color":"#111"},
"encoding":{
"x":{"field":"e","type":"quantitative","scale":{"domain":[0,1200],"reverse":true,"nice":false,"zero":false},"axis":{"title":"Binding energy (eV)","values":[0,100,200,300,400,500,600,700,800,900,1000,1100,1200],"labelExpr":"datum.value % 200 === 0 ? datum.label : ''","format":"d","tickSize":-5,"labelPadding":5,"labelFontSize":13,"titleFontSize":15,"titlePadding":12}},
"y":{"field":"i","type":"quantitative","scale":{"domain":[0,304],"nice":false,"zero":false},"axis":{"title":"Intensity (arb. unit)","titleFontSize":13,"titlePadding":6}}
},
"layer":[
{"data":{"name":"spectra"},"transform":[{"filter":"datum.p === 'b'"}],"mark":{"type":"line","strokeWidth":0.9},"encoding":{"color":{"field":"s","type":"nominal","scale":{"domain":["IMg2","ICa2","EP"],"range":["#3b3fa3","#ee2a2a","#262626"]},"legend":null}}},
{"data":{"name":"labels"},"transform":[{"filter":"datum.p === 'b' && datum.k === 'peak'"}],"mark":{"type":"text","angle":270,"align":"left","baseline":"middle","fontSize":12,"color":"#111"},"encoding":{"text":{"field":"t"}}},
{"data":{"name":"labels"},"transform":[{"filter":"datum.p === 'b' && datum.k === 'sample'"}],"mark":{"type":"text","align":"left","baseline":"alphabetic","fontSize":15,"color":"#111"},"encoding":{"text":{"field":"t"}}},
{"data":{"name":"labels"},"transform":[{"filter":"datum.p === 'b' && datum.k === 'center'"}],"mark":{"type":"text","align":"center","baseline":"alphabetic","fontSize":12,"color":"#111"},"encoding":{"text":{"field":"t"}}},
{"data":{"name":"labels"},"transform":[{"filter":"datum.p === 'b' && datum.k === 'title'"}],"mark":{"type":"text","align":"left","baseline":"alphabetic","fontSize":18,"font":"DejaVu Sans","fontWeight":300,"lineHeight":16,"lineBreak":"\n","color":"#1e1e1e"},"encoding":{"text":{"field":"t"}}}
]
}
],
"config":{
"font":"Liberation Sans",
"view":{"stroke":"#222","strokeWidth":1},
"axisX":{"tickColor":"#222","labelColor":"#111","labelFlush":false,"labelOverlap":false,"labelBound":false,"domain":false,"grid":false,"titleFontWeight":"normal","titleColor":"#111"},
"axisY":{"labels":false,"ticks":false,"domain":false,"grid":false,"titleFontWeight":"normal","titleColor":"#111"}
}
}
